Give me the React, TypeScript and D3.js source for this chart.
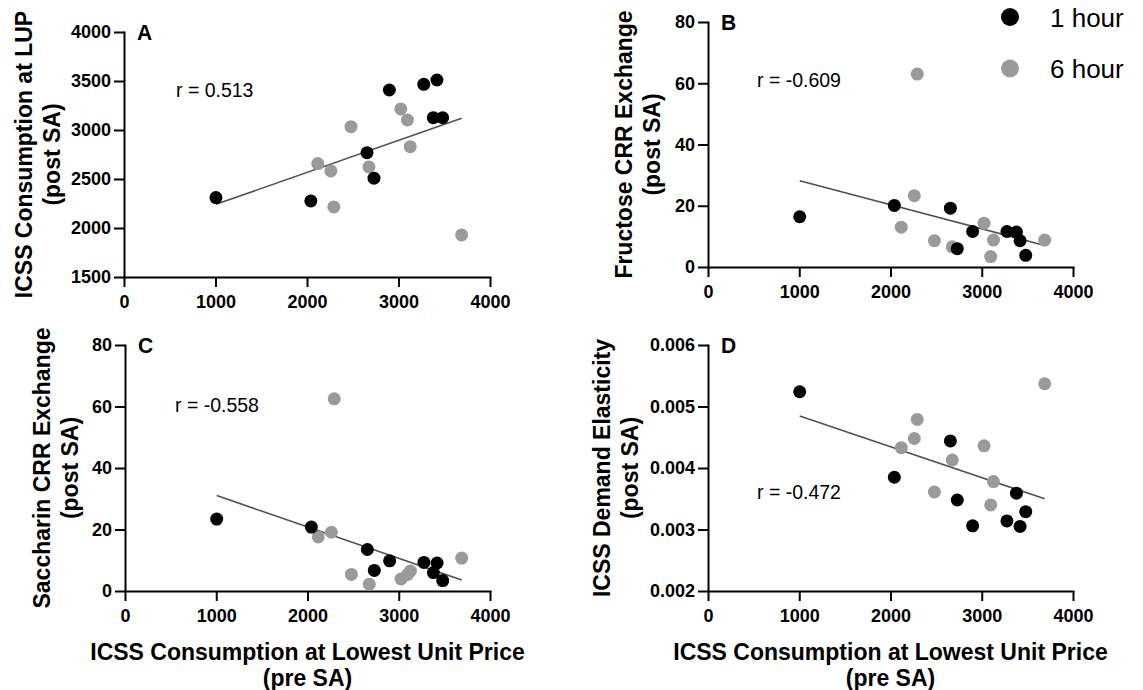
import React, { useEffect, useRef } from 'react';
import * as d3 from 'd3';

// ---- data ----
const X_TICKS = [0, 1000, 2000, 3000, 4000];
const SERIES_NAMES = ['1 hour', '6 hour'];

// ICSS consumption at lowest unit price (pre SA), per subject
const oneHourX = [1005, 2042, 2656, 2732, 2900, 3276, 3380, 3420, 3482];
const sixHourX = [2118, 2261, 2293, 2481, 2677, 3025, 3098, 3128, 3690];

// A: ICSS consumption at LUP (post SA)
const lupOneHour = [2310, 2276, 2769, 2508, 3408, 3466, 3126, 3510, 3126];
const lupSixHour = [2657, 2582, 2215, 3034, 2623, 3215, 3102, 2830, 1929];
// B: Fructose CRR exchange (post SA)
const fructoseOneHour = [16.4, 20.1, 19.2, 6.0, 11.6, 11.6, 11.4, 8.6, 3.8];
const fructoseSixHour = [13.0, 23.3, 63.0, 8.6, 6.6, 14.3, 3.4, 8.8, 8.8];
// C: Saccharin CRR exchange (post SA)
const saccharinOneHour = [23.4, 20.8, 13.5, 6.7, 9.8, 9.3, 6.0, 9.1, 3.4];
const saccharinSixHour = [17.6, 19.1, 62.5, 5.4, 2.2, 3.9, 5.4, 6.5, 10.7];
// D: ICSS demand elasticity (post SA)
const elasticityOneHour = [0.00524, 0.00385, 0.00444, 0.00348, 0.00306, 0.00314, 0.00359, 0.00305, 0.00329];
const elasticitySixHour = [0.00433, 0.00448, 0.00479, 0.00361, 0.00413, 0.00436, 0.0034, 0.00378, 0.00537];

const yTicksA = [1500, 2000, 2500, 3000, 3500, 4000];
const yTicksCRR = [0, 20, 40, 60, 80];
const yTicksD = [0.002, 0.003, 0.004, 0.005, 0.006];

const rLabels = ['r = 0.513', 'r = -0.609', 'r = -0.558', 'r = -0.472'];
const panelLetters = ['A', 'B', 'C', 'D'];
const yTitles = [
  ['ICSS Consumption at LUP', '(post SA)'],
  ['Fructose CRR Exchange', '(post SA)'],
  ['Saccharin CRR Exchange', '(post SA)'],
  ['ICSS Demand Elasticity', '(post SA)'],
];
const xTitle = ['ICSS Consumption at Lowest Unit Price', '(pre SA)'];

// ---- layout ----
const FONT = "'Liberation Sans', Arial, Helvetica, sans-serif";
const BLACK = '#000000';
const GRAY = '#9a9a9a';

type Panel = {
  one: number[]; six: number[]; yTicks: number[]; fmt: (d: number) => string;
  x0: number; x1: number; yb: number; yt: number; titleOff: [number, number];
  rPos: [number, number]; xTitle: boolean;
};

const panels: Panel[] = [
  { one: lupOneHour, six: lupSixHour, yTicks: yTicksA, fmt: d => String(d),
    x0: 124, x1: 490, yb: 277, yt: 32, titleOff: [92, 64], rPos: [176, 97], xTitle: false },
  { one: fructoseOneHour, six: fructoseSixHour, yTicks: yTicksCRR, fmt: d => String(d),
    x0: 708, x1: 1073, yb: 267, yt: 22, titleOff: [76, 48], rPos: [757, 87], xTitle: false },
  { one: saccharinOneHour, six: saccharinSixHour, yTicks: yTicksCRR, fmt: d => String(d),
    x0: 125, x1: 490, yb: 591, yt: 345, titleOff: [75, 47], rPos: [175, 412], xTitle: true },
  { one: elasticityOneHour, six: elasticitySixHour, yTicks: yTicksD, fmt: d => d3.format('.3f')(d),
    x0: 708, x1: 1073, yb: 591, yt: 345, titleOff: [98, 70], rPos: [757, 499], xTitle: true },
];

function linreg(xs: number[], ys: number[]) {
  const mx = d3.mean(xs)!;
  const my = d3.mean(ys)!;
  let sxy = 0, sxx = 0;
  xs.forEach((x, i) => { sxy += (x - mx) * (ys[i] - my); sxx += (x - mx) ** 2; });
  const slope = sxy / sxx;
  return { slope, intercept: my - slope * mx };
}

export default function App() {
  const ref = useRef<SVGSVGElement>(null);

  useEffect(() => {
    const svg = d3.select(ref.current);
    svg.selectAll('*').remove();
    svg.style('font-family', FONT);

    panels.forEach((p, i) => {
      const g = svg.append('g');
      const x = d3.scaleLinear().domain([0, 4000]).range([p.x0, p.x1]);
      const y = d3.scaleLinear().domain([p.yTicks[0], p.yTicks[p.yTicks.length - 1]]).range([p.yb, p.yt]);

      // axes
      const xa = g.append('g').attr('transform', `translate(0,${p.yb})`)
        .call(d3.axisBottom(x).tickValues(X_TICKS).tickSize(10).tickSizeOuter(0).tickPadding(8).tickFormat(d => String(d)));
      const ya = g.append('g').attr('transform', `translate(${p.x0},0)`)
        .call(d3.axisLeft(y).tickValues(p.yTicks).tickSize(10).tickSizeOuter(0).tickPadding(3).tickFormat(d => p.fmt(d as number)));
      [xa, ya].forEach(a => {
        a.select('.domain').attr('stroke', BLACK).attr('stroke-width', 2).attr('stroke-linecap', 'square');
        a.selectAll('.tick line').attr('stroke', BLACK).attr('stroke-width', 2);
        a.selectAll('.tick text').attr('fill', BLACK).attr('font-size', 18).attr('font-weight', 'bold').attr('font-family', FONT);
      });

      // regression line
      const allX = [...oneHourX, ...sixHourX];
      const allY = [...p.one, ...p.six];
      const { slope, intercept } = linreg(allX, allY);
      const [mnx, mxx] = d3.extent(allX) as [number, number];
      g.append('line')
        .attr('x1', x(mnx)).attr('y1', y(slope * mnx + intercept))
        .attr('x2', x(mxx)).attr('y2', y(slope * mxx + intercept))
        .attr('stroke', '#505050').attr('stroke-width', 1.6);

      // points
      const pts = [
        ...sixHourX.map((xv, j) => ({ x: xv, y: p.six[j], c: GRAY })),
        ...oneHourX.map((xv, j) => ({ x: xv, y: p.one[j], c: BLACK })),
      ];
      g.selectAll('circle.pt').data(pts).enter().append('circle')
        .attr('cx', d => x(d.x)).attr('cy', d => y(d.y)).attr('r', 6.5).attr('fill', d => d.c);

      // panel letter
      g.append('text').attr('transform', `translate(${p.x0 + 13},${p.yt + 8}) scale(1,1.05)`)
        .attr('font-size', 21).attr('font-weight', 'bold').text(panelLetters[i]);

      // r label
      g.append('text').attr('transform', `translate(${p.rPos[0]},${p.rPos[1]}) scale(1,1.08)`)
        .attr('font-size', 19.5).text(rLabels[i]);

      // y title
      const cy = (p.yb + p.yt) / 2;
      yTitles[i].forEach((line, k) => {
        g.append('text')
          .attr('transform', `translate(${p.x0 - p.titleOff[k]},${cy}) rotate(-90) scale(1,1.08)`)
          .attr('text-anchor', 'middle').attr('font-size', 23).attr('font-weight', 'bold')
          .text(line);
      });

      // x title
      if (p.xTitle) {
        const cx = (p.x0 + p.x1) / 2;
        xTitle.forEach((line, k) => {
          g.append('text').attr('x', cx).attr('y', 660 + k * 26)
            .attr('text-anchor', 'middle').attr('font-size', 23).attr('font-weight', 'bold')
            .text(line);
        });
      }
    });

    // legend
    const lg = svg.append('g');
    [BLACK, GRAY].forEach((c, k) => {
      lg.append('circle').attr('cx', 1010).attr('cy', 17 + k * 51.5).attr('r', 9).attr('fill', c);
      lg.append('text').attr('x', 1050).attr('y', 26.5 + k * 51.5).attr('font-size', 26).text(SERIES_NAMES[k]);
    });
  }, []);

  return (
    <svg ref={ref} width={1143} height={690}
      style={{ position: 'absolute', left: 0, top: 0, background: '#fff' }} />
  );
}
